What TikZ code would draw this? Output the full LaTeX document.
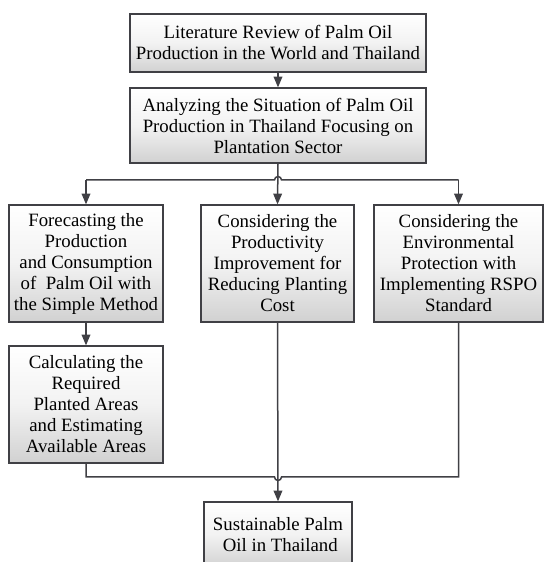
\documentclass[tikz,border=0pt]{standalone}
\usepackage{fontspec}
\setmainfont{Liberation Serif}
\usetikzlibrary{arrows,calc}
\definecolor{dgray}{rgb}{0.25,0.25,0.27}
\definecolor{lgray}{rgb}{0.82,0.82,0.82}
\definecolor{mgray}{rgb}{0.95,0.95,0.95}
\tikzset{
	box/.style={draw=dgray,line width=1.4pt,top color=white,bottom color=lgray,middle color=mgray,align=center,inner sep=0pt,
		font=\fontsize{18.8}{21}\selectfont},
	line/.style={draw=dgray,line width=1.5pt},
	arr/.style={line,->}
}

\begin{document}
\begin{tikzpicture}[line cap=butt,line join=miter,>=triangle 45,x=1pt,y=1pt]
		\clip (0,0) rectangle (544,562);
		\node[box,minimum width=296,minimum height=58] (b1) at (278,519) {Literature Review of Palm Oil\\Production in the World and Thailand};
		\node[box,minimum width=296,minimum height=75] (b2) at (278,436.5) {Analyzing the Situation of Palm Oil\\Production in Thailand Focusing on\\Plantation Sector};
		\node[box,minimum width=154,minimum height=117] (b3) at (86,298.5) {Forecasting the\\Production\\and Consumption\\of\ \ Palm Oil with\\the Simple Method};
		\node[box,minimum width=153,minimum height=117] (b4) at (277.5,298.5) {Considering the\\Productivity\\Improvement for\\Reducing Planting\\Cost};
		\node[box,minimum width=169,minimum height=117] (b5) at (458.5,298.5) {Considering the\\Environmental\\Protection with\\Implementing RSPO\\Standard};
		\node[box,minimum width=154,minimum height=117] (b6) at (86,157.5) {Calculating the\\Required\\Planted Areas\\and Estimating\\Available Areas};
		\node[box,minimum width=148,minimum height=66] (b7) at (278,27) {Sustainable Palm\\\ Oil in Thailand};
		% top part
		\draw [arr] (b1.south) -- (b2.north);
		\coordinate (split) at (278,382);
		\draw [arr] (b2.south) -- (b4.north);
		\draw [arr] (split -| b3.north) -- (b3.north);
		\draw [arr] (split -| b5.north) -- (b5.north);
		\draw [line] (split -| b3.north) -- ($(split)+(-3.5,0)$) arc[start angle=180,end angle=0,radius=3.5] -- (split -| b5.north);
		% left column
		\draw [arr] (b3.south) -- (b6.north);
		% bottom part
		\coordinate (merge) at (278,85);
		\draw [arr] (b4.south) -- (b7.north);
		\draw [line] (b6.south) |- ($(merge)+(-3.5,0)$) arc[start angle=180,end angle=360,radius=3.5] -| (b5.south);
\end{tikzpicture}
\end{document}
